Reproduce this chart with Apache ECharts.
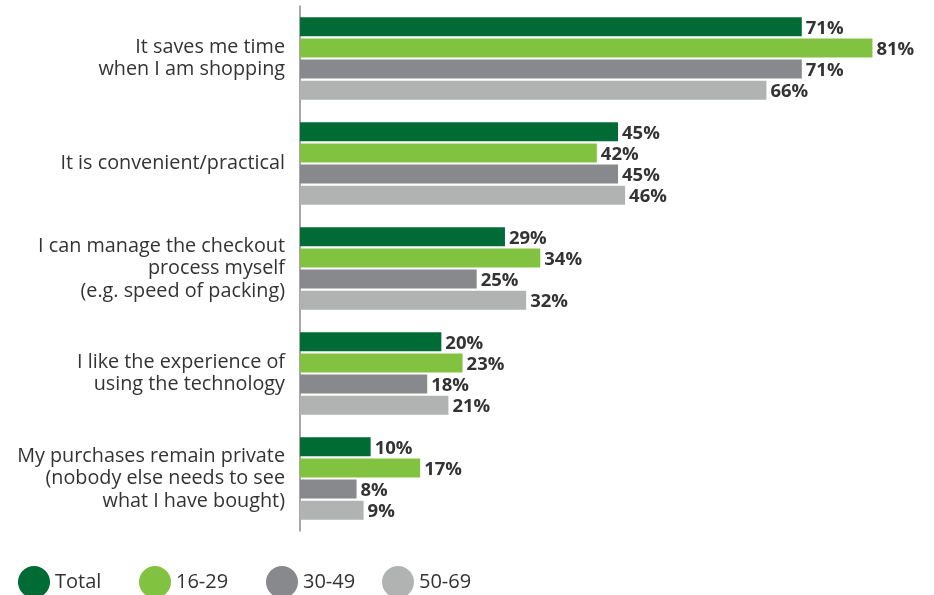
<!DOCTYPE html>
<html>
<head>
<meta charset="utf-8">
<style>
  html, body { margin: 0; padding: 0; background: #ffffff; }
  #chart { width: 934px; height: 595px; }
</style>
<script src="https://cdn.jsdelivr.net/npm/echarts@6/dist/echarts.min.js"></script>
</head>
<body>
<div id="chart"></div>
<script>
// Reasons given for using self-checkout, by age group (%)
const categories = [
  'It saves me time\nwhen I am shopping',
  'It is convenient/practical',
  'I can manage the checkout\nprocess myself\n(e.g. speed of packing)',
  'I like the experience of\nusing the technology',
  'My purchases remain private\n(nobody else needs to see\nwhat I have bought)'
];
const seriesNames = ['Total', '16-29', '30-49', '50-69'];
const totalValues = [71, 45, 29, 20, 10];
const age16to29 = [81, 42, 34, 23, 17];
const age30to49 = [71, 45, 25, 18, 8];
const age50to69 = [66, 46, 32, 21, 9];
const palette = ['#006b35', '#81c341', '#87898c', '#b1b3b3'];

const valueSets = [totalValues, age16to29, age30to49, age50to69];
const fontFamily = '"Open Sans", "Noto Sans", sans-serif';

const chart = echarts.init(document.getElementById('chart'));

const legendLefts = [18, 139, 266, 382];

chart.setOption({
  animation: false,
  textStyle: { fontFamily: fontFamily },
  grid: { left: 300, top: 6, width: 629, height: 525 },
  xAxis: {
    type: 'value', min: 0, max: 89, show: false
  },
  yAxis: {
    type: 'category',
    data: categories,
    inverse: true,
    axisLine: { show: true, lineStyle: { color: '#8a8a8a', width: 1.5 } },
    axisTick: { show: false },
    axisLabel: {
      margin: 15,
      color: '#333333',
      fontSize: 19.8,
      lineHeight: 22.5,
      fontFamily: fontFamily,
      align: 'right'
    }
  },
  legend: seriesNames.map((name, i) => ({
    data: [name],
    left: legendLefts[i],
    top: 566,
    padding: 0,
    icon: 'circle',
    itemWidth: 32,
    itemHeight: 32,
    itemGap: 0,
    textStyle: { color: '#333333', fontSize: 20, fontFamily: fontFamily },
    selectedMode: false
  })),
  series: seriesNames.map((name, i) => ({
    name: name,
    type: 'bar',
    data: valueSets[i],
    barWidth: 19,
    barGap: '11%',
    itemStyle: { color: palette[i] },
    label: {
      show: true,
      position: 'right',
      distance: 4,
      offset: [0, 2],
      formatter: '{c}%',
      color: '#333333',
      fontSize: 18.5,
      fontWeight: 'bold',
      fontFamily: fontFamily
    }
  }))
});
</script>
</body>
</html>
